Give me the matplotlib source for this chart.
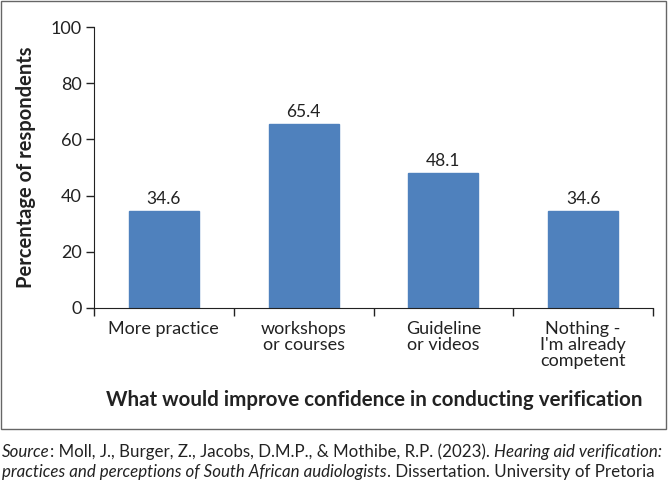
import matplotlib.pyplot as plt
from matplotlib.patches import Rectangle

# ==========================================================
# Data
# ==========================================================

categories = ["More practice", "workshops\nor courses", "Guideline\nor videos",
              "Nothing -\nI'm already\ncompetent"]
percent = [34.6, 65.4, 48.1, 34.6]
value_labels = ["34.6", "65.4", "48.1", "34.6"]
y_ticks = [0, 20, 40, 60, 80, 100]

plt.rcParams["font.family"] = ["Lato", "DejaVu Sans"]

fig = plt.figure(figsize=(6.7, 4.83), dpi=100)
W, H = 670, 483

# axes in pixel coords: left 94, right 653, top 27, bottom 308
ax = fig.add_axes([94 / W, 1 - 308 / H, (653 - 94) / W, (308 - 27) / H])

x = list(range(len(categories)))
bars = ax.bar(x, percent, width=0.5, color="#4F81BD", edgecolor="#4F81BD", zorder=2)

for xi, v, lab in zip(x, percent, value_labels):
    ax.text(xi, v + 1.5, lab, ha="center", va="bottom", fontsize=12.5, color="#222222")

ax.set_xlim(-0.5, len(categories) - 0.5)
ax.set_ylim(0, 100)
ax.set_yticks(y_ticks)
ax.set_yticklabels([str(t) for t in y_ticks], fontsize=13, color="#222222")

# category boundary ticks
ax.set_xticks([i - 0.5 for i in range(len(categories) + 1)])
ax.set_xticklabels([])
ax.tick_params(axis="x", length=6, width=1, direction="out", color="#222222")
ax.tick_params(axis="y", length=6, width=1, direction="out", color="#222222", pad=3)

for xi, cat in zip(x, categories):
    ax.text(xi, -4.5, cat, ha="center", va="top", fontsize=13, color="#222222",
            linespacing=1.0)

ax.spines["top"].set_visible(False)
ax.spines["right"].set_visible(False)
ax.spines["left"].set_color("#222222")
ax.spines["bottom"].set_color("#222222")

ax.set_ylabel("Percentage of respondents", fontsize=14.5, fontweight="bold",
              color="#222222")
ax.yaxis.set_label_coords(-0.104, 0.5)

fig.text(374 / W, 1 - 400 / H, "What would improve confidence in conducting verification",
         ha="center", va="center", fontsize=14.8, fontweight="bold", color="#222222")

# outer frame
fig.patches.append(Rectangle((1 / W, 1 - 429 / H), 665 / W, 428 / H, transform=fig.transFigure,
                             fill=False, edgecolor="#666666", linewidth=1))

# source note
fs = 12.2
src1 = fig.text(2 / W, 1 - 452 / H, "Source", ha="left", va="center", fontsize=fs,
                style="italic", color="#222222")
fig.canvas.draw()
r = fig.canvas.get_renderer()
bb = src1.get_window_extent(r)
t2 = fig.text(bb.x1 / W, 1 - 452 / H,
              ": Moll, J., Burger, Z., Jacobs, D.M.P., & Mothibe, R.P. (2023). ",
              ha="left", va="center", fontsize=fs, color="#222222")
bb = t2.get_window_extent(r)
fig.text(bb.x1 / W, 1 - 452 / H, "Hearing aid verification:", ha="left", va="center",
         fontsize=fs, style="italic", color="#222222")
t3 = fig.text(2 / W, 1 - 472 / H,
              "practices and perceptions of South African audiologists",
              ha="left", va="center", fontsize=fs, style="italic", color="#222222")
bb = t3.get_window_extent(r)
fig.text(bb.x1 / W, 1 - 472 / H, ". Dissertation. University of Pretoria",
         ha="left", va="center", fontsize=fs, color="#222222")

fig.savefig("out.png", dpi=100)
